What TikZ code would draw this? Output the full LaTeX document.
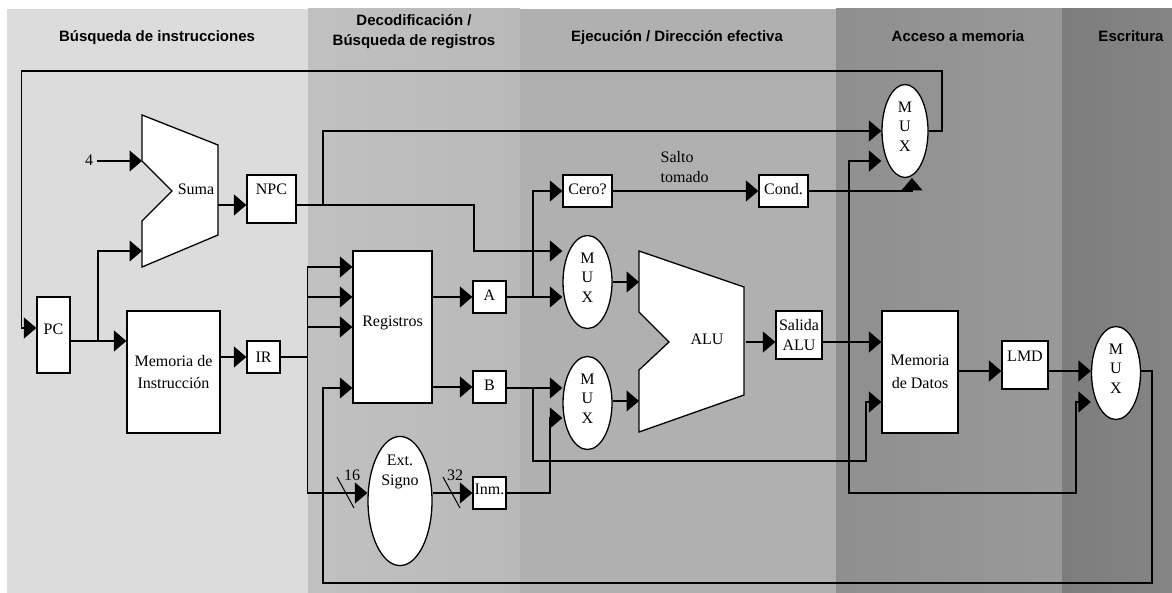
\documentclass[tikz,border=0pt]{standalone}
\usepackage{fontspec}
\setmainfont{Liberation Serif}
\setsansfont{Liberation Sans}
\usepackage{tikz}
\usetikzlibrary{arrows.meta,shapes.geometric}
\definecolor{faseif}{gray}{0.863}
\definecolor{faseidl}{gray}{0.755}
\definecolor{faseidr}{gray}{0.725}
\definecolor{faseex}{gray}{0.69}
\definecolor{fasememl}{gray}{0.56}
\definecolor{fasememr}{gray}{0.60}
\definecolor{fasewbl}{gray}{0.49}
\definecolor{fasewbr}{gray}{0.52}

\begin{document}
\begin{tikzpicture}[
  x=1pt, y=-1pt, line width=1.3pt,
  font=\fontsize{16}{19.5}\selectfont,
  >={Triangle[length=12.5pt,width=21pt]},
  caja/.style={draw, fill=white, align=center, inner sep=0pt, minimum width=#1},
  caja/.default=33pt,
  alta/.style={minimum height=#1},
  sube/.style={text height=10.6pt, text depth=2*#1},
  mux/.style={draw, fill=white, ellipse, align=center, inner sep=0pt, minimum width=49pt, minimum height=93pt},
  fase/.style={font=\fontsize{15}{20}\selectfont\sffamily\bfseries, align=center},
  texto/.style={inner sep=0pt, align=center},
  barra/.style={line width=1pt},
]
\useasboundingbox (0,0) rectangle (1172,593);
% fases
\fill[faseif] (7,9) rectangle (308,593);
\fill[left color=faseidl, right color=faseidr] (308,9) rectangle (520,593);
\fill[faseex] (520,9) rectangle (836,593);
\fill[left color=fasememl, right color=fasememr] (836,9) rectangle (1062,593);
\fill[left color=fasewbl, right color=fasewbr] (1062,9) rectangle (1172,593);
\node[fase, anchor=base] (fif) at (157,41.7) {Búsqueda de instrucciones};
\node[fase] (fid) at (414,32) {Decodificación /\\Búsqueda de registros};
\node[fase, anchor=base] (fex) at (677,41.7) {Ejecución / Dirección efectiva};
\node[fase, anchor=base] (fmem) at (958,41.7) {Acceso a memoria};
\node[fase, anchor=base] (fwb) at (1131,41.7) {Escritura};
% sumador y ALU
\draw[fill=white] (142,115) -- (218,145) -- (218,235) -- (142,267) -- (142,221) -- (172,191) -- (142,161) -- cycle;
\draw[fill=white] (639,251) -- (744,287) -- (744,395) -- (639,432) -- (639,370) -- (669,342) -- (639,312) -- cycle;
\node[texto] (suma) at (196,189) {Suma};
\node[texto] (alu) at (707,339) {ALU};
\coordinate (sumaa) at (142,161);
\coordinate (sumab) at (142,251);
\coordinate (sumas) at (218,205);
\coordinate (alua) at (639,282);
\coordinate (alub) at (639,401);
\coordinate (alus) at (746,342);
% registros y memorias
\node[caja, alta=76pt, sube=6pt] (pc) at (53.5,335) {PC};
\node[caja=49pt, alta=48pt, sube=10pt] (npc) at (271.5,199) {NPC};
\node[caja, alta=32pt] (ir) at (263.5,357) {IR};
\node[caja=93pt, alta=122pt] (memi) at (173.5,372) {Memoria de\\[3pt]Instrucción};
\node[caja=79pt, alta=152pt, sube=6pt] (regs) at (392.5,327) {Registros};
\node[caja, alta=32pt, sube=2pt] (a) at (489.5,297) {A};
\node[caja, alta=32pt, sube=2pt] (b) at (489.5,387) {B};
\node[caja, alta=32pt, sube=4pt] (inm) at (489.5,493) {Inm.};
\node[caja=49pt, alta=32pt, sube=2pt] (cero) at (587.5,191) {Cero?};
\node[caja=49pt, alta=32pt, sube=2pt] (cond) at (783.5,191) {Cond.};
\node[caja=46pt, alta=48pt] (salida) at (799,335) {Salida\\ALU};
\node[caja=76pt, alta=122pt] (memd) at (920,372) {Memoria\\[3pt]de Datos};
\node[caja=46pt, alta=48pt, sube=9pt] (lmd) at (1025,365) {LMD};
\node[draw, fill=white, ellipse, align=center, inner sep=0pt, minimum width=64pt, minimum height=109pt] (ext) at (400,501) {Ext.\\Signo\\[36pt]\strut};
% multiplexores
\node[mux, minimum width=46pt] (muxm) at (905,131) {M\\U\\X\\[-11pt]\mbox{}};
\node[mux] (muxa) at (587.5,282) {M\\U\\X\\[-11pt]\mbox{}};
\node[mux] (muxb) at (587.5,403) {M\\U\\X\\[-11pt]\mbox{}};
\node[mux] (muxw) at (1116,373) {M\\U\\X\\[-11pt]\mbox{}};
% textos sueltos
\node[texto] (cuatro) at (89,160) {4};
\node[texto, align=left, anchor=west] (salto) at (660,167) {Salto\\tomado};
\node[texto] (n16) at (352,475) {16};
\node[texto] (n32) at (455,475) {32};
% puntos de bifurcacion
\coordinate (jpc) at (98,341);
\coordinate (jnpc) at (323,205);
\coordinate (jir) at (307.5,357);
\coordinate (jregb) at (307.5,297);
\coordinate (jregc) at (307.5,327);
\coordinate (ja) at (533,297);
\coordinate (jb) at (533,388);
\coordinate (jalu) at (849,342);
% busqueda
\draw[->] (muxm.east) -- (942,131) -- (942,71) -- (21.5,71) -- (21.5,328) -- ([yshift=7pt]pc.west);
\draw[->] (cuatro.east) ++(3,1) -- (sumaa);
\draw[->] ([yshift=-6pt]pc.east) -- ([yshift=31pt]memi.west);
\draw[->] (jpc) -- (98,251) -- (sumab);
\draw[->] (sumas) -- ([yshift=-6pt]npc.west);
\draw[->] ([yshift=15pt]memi.east) -- (ir.west);
% decodificacion
\draw[->] ([yshift=-6pt]npc.east) -- (474,205) -- (474,251) -- ([yshift=31pt]muxa.west);
\draw[->] (jnpc) -- (323,131) -- (muxm.west);
\draw (ir.east) -- (jir);
\draw[->] (jir) -- (307.5,267) -- ([yshift=60pt]regs.west);
\draw[->] (jregb) -- ([yshift=30pt]regs.west);
\draw[->] (jregc) -- (regs.west);
\draw[->] (jir) -- (307.5,493) -- ([yshift=8pt]ext.west);
\draw[->] ([yshift=2pt]muxw.east) -- (1152,371) -- (1152,583) -- (323,583) -- (323,388) -- ([yshift=-61pt]regs.west);
\draw[->] ([yshift=30pt]regs.east) -- (a.west);
\draw[->] ([yshift=-60pt]regs.east) -- (b.west);
\draw[->] ([yshift=8pt]ext.east) -- (inm.west);
\draw[barra] (337,477) -- (354,508);
\draw[barra] (443,477) -- (460,508);
% ejecucion
\draw[->] (a.east) -- ([yshift=-15pt]muxa.west);
\draw[->] (ja) -- (533,191) -- (cero.west);
\draw[->] (b.east |- jb) -- ([yshift=15pt]muxb.west);
\draw[->] (jb) -- (533,461) -- (866,461) -- (866,402) -- ([yshift=-30pt]memd.west);
\draw[->] (inm.east) -- (550,493) -- (550,418) -- ([yshift=-15pt]muxb.west);
\draw[->] (muxa.east) -- (alua);
\draw[->] ([yshift=2pt]muxb.east) -- (alub);
\draw[->] (alus) -- ([yshift=-7pt]salida.west);
\draw[->] (cero.east) -- (cond.west);
% memoria y escritura
\draw[->] (cond.east) -- (912,191) -- (912,178);
\draw[->] ([yshift=-7pt]salida.east) -- ([yshift=30pt]memd.west);
\draw[->] (jalu) -- (849,161) -- ([yshift=-30pt]muxm.west);
\draw[->] (jalu) -- (849,493) -- (1076,493) -- (1076,402) -- ([yshift=-29pt]muxw.west);
\draw[->] ([yshift=1pt]memd.east) -- ([yshift=-6pt]lmd.west);
\draw[->] ([yshift=-6pt]lmd.east) -- ([yshift=2pt]muxw.west);
\end{tikzpicture}
\end{document}
